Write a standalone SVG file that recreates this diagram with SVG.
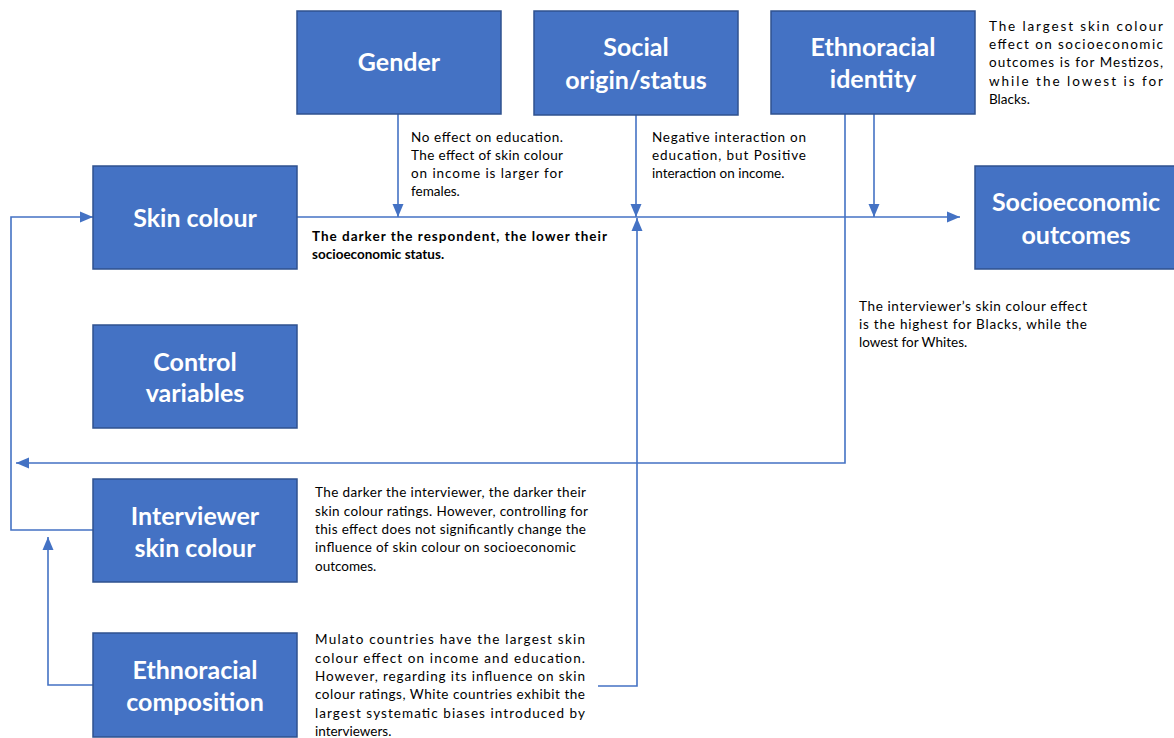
<svg xmlns="http://www.w3.org/2000/svg" width="1174" height="738" viewBox="0 0 1174 738">
<style>
.box{fill:#4472C4;stroke:#2F528F;stroke-width:1.5}
.lbl{font-family:Lato,"Liberation Sans",sans-serif;font-weight:bold;font-size:25px;fill:#fff;text-anchor:middle}
.note{font-family:Lato,"Liberation Sans",sans-serif;font-size:13.5px;fill:#000}
.b{font-weight:bold}
.c{fill:none;stroke:#4472C4;stroke-width:1.6}
</style>
<defs>
<marker id="ah" markerUnits="userSpaceOnUse" markerWidth="14" markerHeight="14" viewBox="0 0 14 14" refX="13" refY="7" orient="auto">
<path d="M0,1.5 L13,7 L0,12.5 Z" fill="#4472C4"/>
</marker>
</defs>
<rect width="1174" height="738" fill="#fff"/>
<g id="connectors">
<path class="c" d="M297,217 H960" marker-end="url(#ah)"/>
<path class="c" d="M398,114 V217" marker-end="url(#ah)"/>
<path class="c" d="M636,115 V217" marker-end="url(#ah)"/>
<path class="c" d="M874,114 V217" marker-end="url(#ah)"/>
<path class="c" d="M845,114 V463 H16" marker-end="url(#ah)"/>
<path class="c" d="M93,530 H11 V217 H93" marker-end="url(#ah)"/>
<path class="c" d="M93,685 H48 V537" marker-end="url(#ah)"/>
<path class="c" d="M598,686 H637 V218" marker-end="url(#ah)"/>
</g>
<g id="gender">
<rect class="box" x="297" y="11" width="204" height="103"/>
<text class="lbl" x="399" y="71">Gender</text>
</g>
<g id="social">
<rect class="box" x="534" y="11" width="204" height="104"/>
<text class="lbl" x="636" y="56">Social</text>
<text class="lbl" x="636" y="89">origin/status</text>
</g>
<g id="ethnoracial-identity">
<rect class="box" x="771" y="11" width="204" height="103"/>
<text class="lbl" x="873" y="56">Ethnoracial</text>
<text class="lbl" x="873" y="88">identity</text>
</g>
<g id="socioeconomic">
<rect class="box" x="975" y="166" width="204" height="103"/>
<text class="lbl" x="1076" y="211">Socioeconomic</text>
<text class="lbl" x="1076" y="244">outcomes</text>
</g>
<g id="skin-colour">
<rect class="box" x="93" y="166" width="204" height="103"/>
<text class="lbl" x="195" y="227">Skin colour</text>
</g>
<g id="control">
<rect class="box" x="93" y="325" width="204" height="103"/>
<text class="lbl" x="195" y="371">Control</text>
<text class="lbl" x="195" y="402">variables</text>
</g>
<g id="interviewer">
<rect class="box" x="93" y="479" width="204" height="103"/>
<text class="lbl" x="195" y="525">Interviewer</text>
<text class="lbl" x="195" y="557">skin colour</text>
</g>
<g id="composition">
<rect class="box" x="93" y="633" width="204" height="104"/>
<text class="lbl" x="195" y="679">Ethnoracial</text>
<text class="lbl" x="195" y="711">composition</text>
</g>
<g id="notes">
<text class="note" x="411" y="142" textLength="152" lengthAdjust="spacing">No effect on education.</text>
<text class="note" x="411" y="160" textLength="152" lengthAdjust="spacing">The effect of skin colour</text>
<text class="note" x="411" y="178" textLength="152" lengthAdjust="spacing">on income is larger for</text>
<text class="note" x="411" y="196">females.</text>

<text class="note" x="652" y="142" textLength="154" lengthAdjust="spacing">Negative interaction on</text>
<text class="note" x="652" y="160" textLength="154" lengthAdjust="spacing">education, but Positive</text>
<text class="note" x="652" y="178">interaction on income.</text>

<text class="note" x="989" y="31" textLength="174" lengthAdjust="spacing">The largest skin colour</text>
<text class="note" x="989" y="49" textLength="174" lengthAdjust="spacing">effect on socioeconomic</text>
<text class="note" x="989" y="67" textLength="174" lengthAdjust="spacing">outcomes is for Mestizos,</text>
<text class="note" x="989" y="86" textLength="174" lengthAdjust="spacing">while the lowest is for</text>
<text class="note" x="989" y="104">Blacks.</text>

<text class="note b" x="312" y="241" textLength="295" lengthAdjust="spacing">The darker the respondent, the lower their</text>
<text class="note b" x="312" y="259">socioeconomic status.</text>

<text class="note" x="859" y="311" textLength="228" lengthAdjust="spacing">The interviewer’s skin colour effect</text>
<text class="note" x="859" y="329" textLength="228" lengthAdjust="spacing">is the highest for Blacks, while the</text>
<text class="note" x="859" y="347">lowest for Whites.</text>

<text class="note" x="315" y="497" textLength="271" lengthAdjust="spacing">The darker the interviewer, the darker their</text>
<text class="note" x="315" y="516" textLength="273" lengthAdjust="spacing">skin colour ratings. However, controlling for</text>
<text class="note" x="315" y="534" textLength="271" lengthAdjust="spacing">this effect does not significantly change the</text>
<text class="note" x="315" y="552" textLength="261" lengthAdjust="spacing">influence of skin colour on socioeconomic</text>
<text class="note" x="315" y="571">outcomes.</text>

<text class="note" x="315" y="644" textLength="270" lengthAdjust="spacing">Mulato countries have the largest skin</text>
<text class="note" x="315" y="663" textLength="270" lengthAdjust="spacing">colour effect on income and education.</text>
<text class="note" x="315" y="681" textLength="270" lengthAdjust="spacing">However, regarding its influence on skin</text>
<text class="note" x="315" y="699" textLength="270" lengthAdjust="spacing">colour ratings, White countries exhibit the</text>
<text class="note" x="315" y="718" textLength="270" lengthAdjust="spacing">largest systematic biases introduced by</text>
<text class="note" x="315" y="736">interviewers.</text>
</g>
</svg>
